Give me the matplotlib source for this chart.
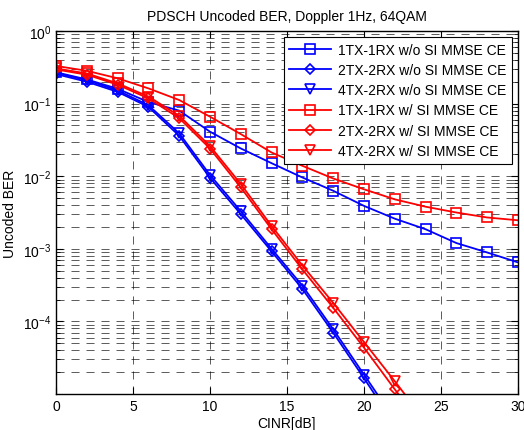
import numpy as np
import matplotlib
matplotlib.use('Agg')
import matplotlib.pyplot as plt
from matplotlib.ticker import LogLocator, NullFormatter, FixedLocator

# CINR points (dB)
cinr = [0, 2, 4, 6, 8, 10, 12, 14, 16, 18, 20, 22, 24, 26, 28, 30]
cinr_wo = [0, 2, 4, 6, 8, 10, 12, 14, 16, 18, 20, 22]
cinr_w = [0, 2, 4, 6, 8, 10, 12, 14, 16, 18, 20, 22, 24]

# uncoded BER, without SI
ber_1x1_wo = [0.27, 0.215, 0.16, 0.105, 0.080, 0.041, 0.0241, 0.0151, 0.0096, 0.0063,
              0.0039, 0.0026, 0.00186, 0.0012, 0.00089, 0.00065]
ber_2x2_wo = [0.255, 0.20, 0.145, 0.090, 0.036, 0.0095, 0.0030, 0.00092, 0.00028,
              7.0e-5, 1.65e-5, 3.8e-6]
ber_4x2_wo = [0.265, 0.21, 0.152, 0.095, 0.039, 0.0104, 0.0033, 0.00100, 0.00031,
              7.8e-5, 1.85e-5, 4.4e-6]

# uncoded BER, with SI
ber_1x1_w = [0.33, 0.283, 0.223, 0.162, 0.112, 0.066, 0.038, 0.0212, 0.0139, 0.0093,
             0.0066, 0.0048, 0.0038, 0.00316, 0.0027, 0.00247]
ber_2x2_w = [0.295, 0.25, 0.182, 0.118, 0.063, 0.0240, 0.0070, 0.00186, 0.00052,
             0.000154, 4.35e-5, 1.16e-5, 3.3e-6]
ber_4x2_w = [0.305, 0.26, 0.19, 0.125, 0.068, 0.026, 0.0078, 0.00206, 0.00059,
             0.00018, 5.2e-5, 1.5e-5, 4.2e-6]

labels = ['1TX-1RX w/o SI MMSE CE', '2TX-2RX w/o SI MMSE CE', '4TX-2RX w/o SI MMSE CE',
          '1TX-1RX w/ SI MMSE CE', '2TX-2RX w/ SI MMSE CE', '4TX-2RX w/ SI MMSE CE']

plt.rcParams['font.family'] = ['Liberation Sans', 'DejaVu Sans']
plt.rcParams['mathtext.default'] = 'regular'
plt.rcParams['lines.scale_dashes'] = False

fig = plt.figure(figsize=(5.24, 4.31), dpi=100)
ax = fig.add_axes([0.1069, 0.0835, 0.8816, 0.8423])

series = [
    (cinr, ber_1x1_wo, 'blue', 's', 7),
    (cinr_wo, ber_2x2_wo, 'blue', 'D', 5.5),
    (cinr_wo, ber_4x2_wo, 'blue', 'v', 7),
    (cinr, ber_1x1_w, 'red', 's', 7),
    (cinr_w, ber_2x2_w, 'red', 'D', 5.5),
    (cinr_w, ber_4x2_w, 'red', 'v', 7),
]
for (xs, ys, col, mk, ms), lab in zip(series, labels):
    ax.semilogy(xs, ys, color=col, marker=mk, markersize=ms, markerfacecolor='none',
                markeredgewidth=1.2, linewidth=1.3, label=lab)

ax.set_xlim(0, 30)
ax.set_ylim(1e-5, 1)
ax.set_xticks([0, 5, 10, 15, 20, 25, 30])
ax.yaxis.set_major_locator(FixedLocator([1e-4, 1e-3, 1e-2, 1e-1, 1e0]))
ax.yaxis.set_minor_locator(LogLocator(base=10, subs=np.arange(2, 10), numticks=20))
ax.yaxis.set_minor_formatter(NullFormatter())

ax.tick_params(which='both', direction='in', top=True, right=True, labelsize=10)
ax.tick_params(which='major', length=5, width=0.8)
ax.tick_params(which='minor', length=3, width=0.6)
for sp in ax.spines.values():
    sp.set_linewidth(1.0)

gridstyle = dict(color='black', linestyle=(0, (5.8, 5)), linewidth=0.6, alpha=0.75)
ax.grid(which='major', axis='both', **gridstyle)
ax.grid(which='minor', axis='y', **gridstyle)
ax.set_axisbelow(True)

ax.set_title('PDSCH Uncoded BER, Doppler 1Hz, 64QAM', fontsize=10, pad=8)
ax.set_xlabel('CINR[dB]', fontsize=10, labelpad=2)
ax.set_ylabel('Uncoded BER', fontsize=10, labelpad=4)

leg = ax.legend(loc='upper right', bbox_to_anchor=(0.987, 0.983), borderaxespad=0,
                fontsize=10, handlelength=3.0, labelspacing=0.45, fancybox=False,
                framealpha=1, edgecolor='black', borderpad=0.4, handletextpad=0.5)
leg.get_frame().set_linewidth(0.8)

fig.savefig('out.png', dpi=100)
